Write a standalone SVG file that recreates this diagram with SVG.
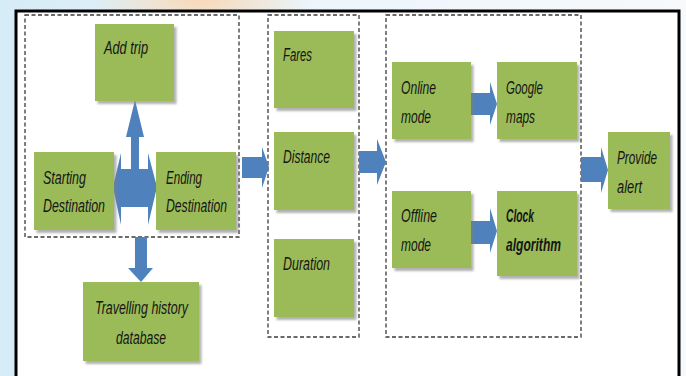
<svg xmlns="http://www.w3.org/2000/svg" width="686" height="376" viewBox="0 0 686 376">
<defs>
<linearGradient id="bg" x1="0" y1="0" x2="1" y2="0">
<stop offset="0" stop-color="#d6ecf6"/>
<stop offset="0.5" stop-color="#eef6fb"/>
<stop offset="1" stop-color="#f7f9fb"/>
</linearGradient>
<radialGradient id="glow" cx="0.5" cy="0.5" r="0.5">
<stop offset="0" stop-color="#f8d9b8"/>
<stop offset="1" stop-color="#f8d9b8" stop-opacity="0"/>
</radialGradient>
<filter id="sh" x="-10%" y="-10%" width="125%" height="125%">
<feDropShadow dx="2.5" dy="3" stdDeviation="1.2" flood-color="#7f7f7f" flood-opacity="0.6"/>
</filter>
<style>
.node{fill:#9bbb59;filter:url(#sh)}
.dash{fill:none;stroke:#3a3a3a;stroke-width:1.3;stroke-dasharray:4 2.5}
.arrow{fill:#4f81bd}
text{font-family:"Liberation Sans",Arial,sans-serif;font-style:italic;font-size:18px;fill:#151515}
.b{font-weight:bold}
</style>
</defs>
<rect x="0" y="0" width="686" height="376" fill="url(#bg)"/>
<ellipse cx="200" cy="0" rx="110" ry="40" fill="url(#glow)"/>
<rect x="16" y="11" width="663" height="380" fill="#ffffff" stroke="#000000" stroke-width="3"/>
<g id="groups">
<rect class="dash" x="25" y="15" width="214" height="222"/>
<rect class="dash" x="268" y="15" width="91" height="322"/>
<rect class="dash" x="386" y="15" width="195" height="322"/>
</g>
<g id="connectors">
<polygon class="arrow" points="135,100 144,137 139,137 139,169 148,169 148,153 157,187 148,225 148,207 121,207 121,225 113,187 121,153 121,169 131,169 131,137 126,137"/>
<polygon class="arrow" points="135,237 147,237 147,268 153,268 141,282 128,268 135,268"/>
<polygon class="arrow" points="242,157 262,157 262,147 269,167 262,188 262,178 242,178"/>
<polygon class="arrow" points="359,151 377,151 377,139 386,162 377,185 377,173 359,173"/>
<polygon class="arrow" points="471,93 490,93 490,82 497,104 490,125 490,115 471,115"/>
<polygon class="arrow" points="471,221 490,221 490,208 497,231 490,253 490,244 471,244"/>
<polygon class="arrow" points="581,157 601,157 601,147 608,170 601,193 601,182 581,182"/>
</g>
<g id="add-trip"><rect class="node" x="95" y="24" width="79" height="77"/><text x="104" y="54" textLength="44" lengthAdjust="spacingAndGlyphs">Add trip</text></g>
<g id="starting-destination"><rect class="node" x="34" y="152" width="80" height="78"/><text x="43" y="184" textLength="43" lengthAdjust="spacingAndGlyphs">Starting</text><text x="43" y="212" textLength="62" lengthAdjust="spacingAndGlyphs">Destination</text></g>
<g id="ending-destination"><rect class="node" x="156" y="152" width="80" height="78"/><text x="166" y="184" textLength="36" lengthAdjust="spacingAndGlyphs">Ending</text><text x="166" y="212" textLength="61" lengthAdjust="spacingAndGlyphs">Destination</text></g>
<g id="travelling-history"><rect class="node" x="83" y="282" width="116" height="79"/><text x="95" y="314" textLength="93" lengthAdjust="spacingAndGlyphs">Travelling history</text><text x="116" y="344" textLength="50" lengthAdjust="spacingAndGlyphs">database</text></g>
<g id="fares"><rect class="node" x="274" y="31" width="80" height="77"/><text x="283" y="61" textLength="29" lengthAdjust="spacingAndGlyphs">Fares</text></g>
<g id="distance"><rect class="node" x="274" y="132" width="80" height="78"/><text x="283" y="163" textLength="47" lengthAdjust="spacingAndGlyphs">Distance</text></g>
<g id="duration"><rect class="node" x="274" y="239" width="80" height="78"/><text x="283" y="270" textLength="47" lengthAdjust="spacingAndGlyphs">Duration</text></g>
<g id="online-mode"><rect class="node" x="392" y="62" width="79" height="77"/><text x="401" y="94" textLength="35" lengthAdjust="spacingAndGlyphs">Online</text><text x="401" y="123" textLength="30" lengthAdjust="spacingAndGlyphs">mode</text></g>
<g id="google-maps"><rect class="node" x="497" y="62" width="80" height="77"/><text x="506" y="94" textLength="37" lengthAdjust="spacingAndGlyphs">Google</text><text x="506" y="123" textLength="29" lengthAdjust="spacingAndGlyphs">maps</text></g>
<g id="offline-mode"><rect class="node" x="392" y="191" width="79" height="77"/><text x="401" y="222" textLength="36" lengthAdjust="spacingAndGlyphs">Offline</text><text x="401" y="251" textLength="30" lengthAdjust="spacingAndGlyphs">mode</text></g>
<g id="clock-algorithm"><rect class="node" x="497" y="191" width="80" height="85"/><text class="b" x="506" y="222" textLength="28" lengthAdjust="spacingAndGlyphs">Clock</text><text class="b" x="506" y="251" textLength="55" lengthAdjust="spacingAndGlyphs">algorithm</text></g>
<g id="provide-alert"><rect class="node" x="608" y="132" width="62" height="77"/><text x="617" y="164" textLength="40" lengthAdjust="spacingAndGlyphs">Provide</text><text x="617" y="193" textLength="25" lengthAdjust="spacingAndGlyphs">alert</text></g>
</svg>
